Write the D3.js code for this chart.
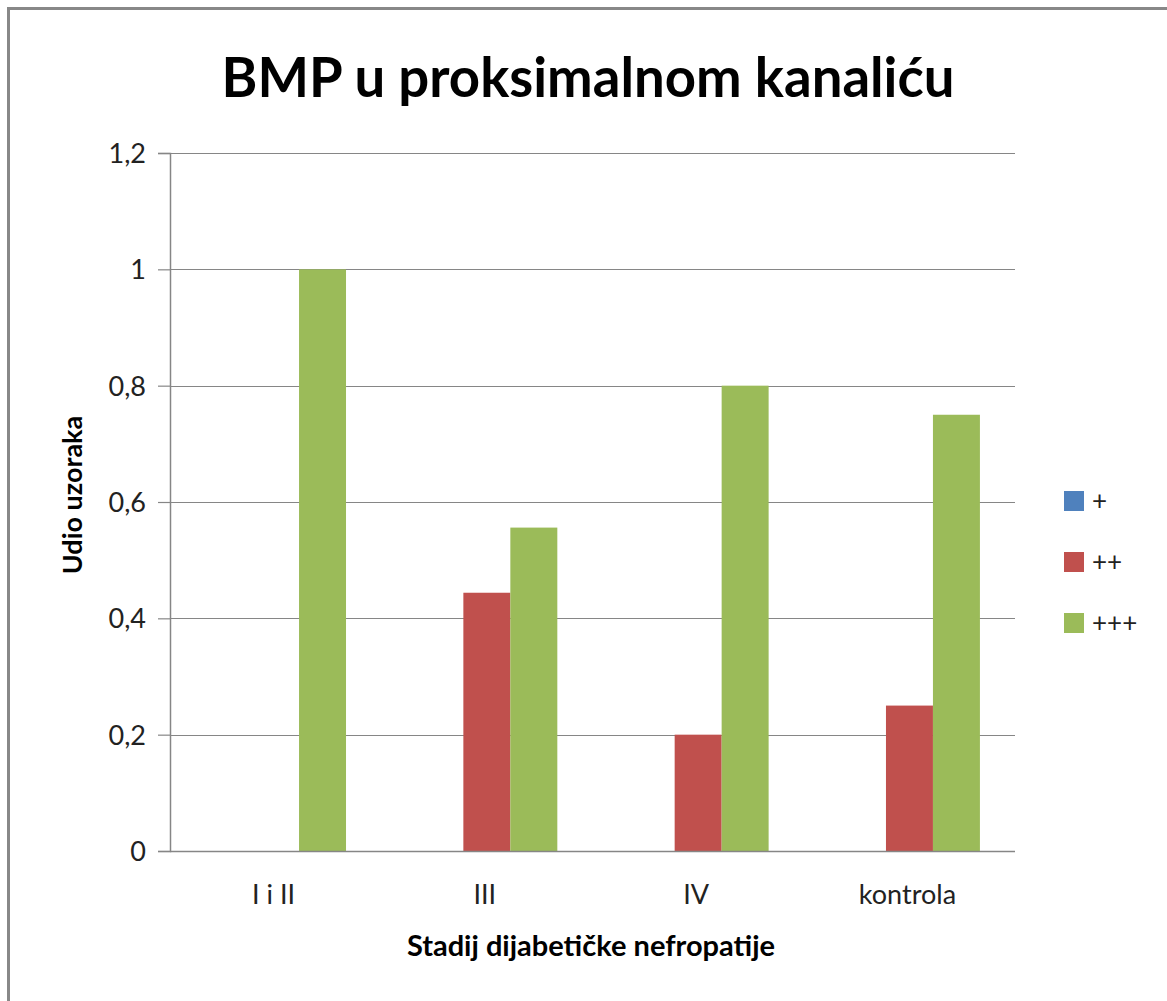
<!DOCTYPE html>
<html>
<head>
<meta charset="utf-8">
<script src="https://cdn.jsdelivr.net/npm/d3@7"></script>
<style>
  body { margin: 0; background: #fff; }
  text { font-family: Lato, "Open Sans", sans-serif; }
</style>
</head>
<body>
<div id="chart"></div>
<script>
var categories = ["I i II", "III", "IV", "kontrola"]
var seriesNames = ["+", "++", "+++"]
var plusValues = [0, 0, 0, 0]
var plus2Values = [0, 0.444, 0.2, 0.25]
var plus3Values = [1, 0.556, 0.8, 0.75]
var yTicks = [0, 0.2, 0.4, 0.6, 0.8, 1, 1.2]
var colors = ["#4F81BD", "#C0504D", "#9BBB59"]

var width = 1167, height = 1001
var margin = {top: 153, right: 152, bottom: 150, left: 170}
var plotW = width - margin.left - margin.right,
    plotH = height - margin.top - margin.bottom

var svg = d3.select("#chart")
  .append("svg")
    .attr("width", width)
    .attr("height", height)

// outer frame (only top and left visible in the picture)
svg.append("path")
  .attr("d", "M8.5," + height + "V8.5H" + width)
  .attr("fill", "none")
  .attr("stroke", "#888")
  .attr("stroke-width", 3)

var g = svg.append("g")
  .attr("transform", "translate(" + margin.left + "," + margin.top + ")")

var x0 = d3.scaleBand()
  .domain(categories)
  .range([0, plotW])
  .paddingInner(0.333)
  .paddingOuter(0.166)

var x1 = d3.scaleBand()
  .domain(seriesNames)
  .range([0, x0.bandwidth()])

var y = d3.scaleLinear()
  .domain([0, 1.2])
  .range([plotH, 0])

// gridlines
g.selectAll(".grid")
  .data(yTicks.slice(1))
  .enter()
  .append("line")
    .attr("x1", 0)
    .attr("x2", plotW)
    .attr("y1", function(d){ return Math.round(y(d)) + 0.5 })
    .attr("y2", function(d){ return Math.round(y(d)) + 0.5 })
    .attr("stroke", "#868686")
    .attr("stroke-width", 1.2)

var table = categories.map(function(c, i){
  return {cat: c, vals: [plusValues[i], plus2Values[i], plus3Values[i]]}
})

var groups = g.selectAll(".grp")
  .data(table)
  .enter()
  .append("g")
    .attr("transform", function(d){ return "translate(" + x0(d.cat) + ",0)" })

groups.selectAll("rect")
  .data(function(d){ return d.vals.map(function(v, j){ return {s: seriesNames[j], v: v, j: j} }) })
  .enter()
  .append("rect")
    .attr("x", function(d){ return x1(d.s) })
    .attr("width", x1.bandwidth())
    .attr("y", function(d){ return y(d.v) })
    .attr("height", function(d){ return plotH - y(d.v) })
    .attr("fill", function(d){ return colors[d.j] })

// y axis
var yAxis = g.append("g")
  .call(d3.axisLeft(y).tickValues(yTicks).tickSize(12).tickPadding(12)
    .tickFormat(function(d){ return String(d).replace(".", ",") }))
yAxis.select(".domain").attr("stroke", "#868686").attr("stroke-width", 1.5)
yAxis.selectAll(".tick line").attr("stroke", "#868686").attr("stroke-width", 1.2)
yAxis.selectAll("text")
  .attr("fill", "#222")
  .style("font-size", "27px")
  .attr("dy", "0.35em")

// x axis baseline
g.append("line")
  .attr("x1", 0).attr("x2", plotW)
  .attr("y1", plotH + 0.5).attr("y2", plotH + 0.5)
  .attr("stroke", "#868686")
  .attr("stroke-width", 1.5)

g.selectAll(".xlab")
  .data(categories)
  .enter()
  .append("text")
    .attr("x", function(d){ return x0(d) + x0.bandwidth() / 2 - 2 })
    .attr("y", plotH + 53)
    .attr("text-anchor", "middle")
    .attr("fill", "#222")
    .style("font-size", "27px")
    .text(function(d){ return d })

// titles
svg.append("text")
  .attr("x", 588)
  .attr("y", 97)
  .attr("text-anchor", "middle")
  .style("font-size", "54.5px")
  .style("font-weight", "bold")
  .text("BMP u proksimalnom kanaliću")

svg.append("text")
  .attr("x", 591)
  .attr("y", 956)
  .attr("text-anchor", "middle")
  .style("font-size", "29px")
  .style("font-weight", "bold")
  .text("Stadij dijabetičke nefropatije")

svg.append("text")
  .attr("transform", "translate(82,495) rotate(-90)")
  .attr("text-anchor", "middle")
  .style("font-size", "27px")
  .style("font-weight", "bold")
  .text("Udio uzoraka")

// legend
var legend = svg.selectAll(".leg")
  .data(seriesNames)
  .enter()
  .append("g")
    .attr("transform", function(d, i){ return "translate(1064," + (491 + i * 61) + ")" })

legend.append("rect")
  .attr("width", 20)
  .attr("height", 20)
  .attr("fill", function(d, i){ return colors[i] })

legend.append("text")
  .attr("x", 28)
  .attr("y", 10)
  .attr("dy", "0.35em")
  .attr("fill", "#222")
  .style("font-size", "26px")
  .text(function(d){ return d })
</script>
</body>
</html>
